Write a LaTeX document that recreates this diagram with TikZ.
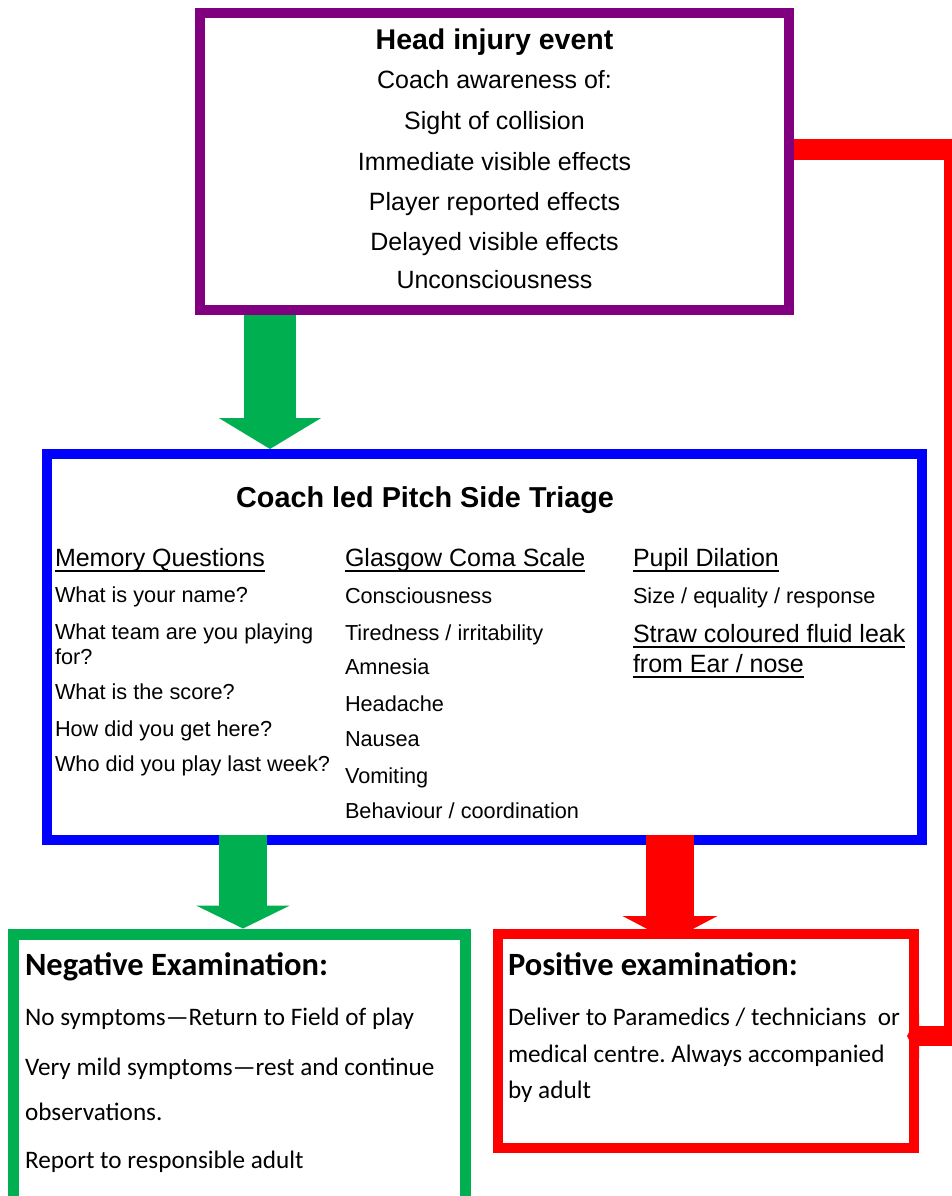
\documentclass[tikz,border=0pt]{standalone}
\usepackage{fontspec}
\setmainfont{Liberation Sans}
\newfontfamily\calibri{Carlito}
\usetikzlibrary{arrows.meta}
\definecolor{evpurple}{RGB}{128,0,128}
\definecolor{trblue}{RGB}{0,0,255}
\definecolor{ngreen}{RGB}{0,176,80}
\definecolor{pred}{RGB}{255,0,0}
\pgfdeclarelayer{bg}\pgfdeclarelayer{mid}\pgfsetlayers{bg,mid,main}
\newsavebox\ulbox
\newcommand\ulx[1]{\sbox\ulbox{#1}\rlap{\rule[-6pt]{\wd\ulbox}{1.6pt}}\usebox\ulbox}
\frenchspacing
\begin{document}
\begin{tikzpicture}[x=1pt,y=-1pt,
  box/.style={draw, fill=white, inner sep=0pt, anchor=north west},
  lbl/.style={anchor=base west, inner sep=0pt, outer sep=0pt},
  clbl/.style={anchor=base, inner sep=0pt, outer sep=0pt},
  evhead/.style={clbl, font=\fontsize{28.5}{32}\selectfont\bfseries},
  evtxt/.style={clbl, font=\fontsize{25}{29}\selectfont},
  trtitle/.style={clbl, font=\fontsize{28.8}{32}\selectfont\bfseries},
  colhead/.style={lbl, font=\fontsize{25}{29}\selectfont},
  coltxt/.style={lbl, font=\fontsize{21.7}{25}\selectfont},
  calhead/.style={lbl, font=\calibri\bfseries\fontsize{32.5}{36}\selectfont},
  caltxt/.style={lbl, font=\calibri\fontsize{25.2}{29}\selectfont},
  blockarrow/.style={line width=#1}
]
\useasboundingbox (0,0) rectangle (952,1196);

% boxes
\begin{pgfonlayer}{bg}
\node[box, draw=evpurple, line width=10pt, minimum width=589pt, minimum height=297pt] (event) at (195,8) {};
\node[box, draw=trblue, line width=10pt, minimum width=874.5pt, minimum height=386pt] (triage) at (42,449) {};
\end{pgfonlayer}
\node[box, draw=ngreen, line width=11pt, minimum width=452pt, minimum height=300pt] (neg) at (7.5,928.5) {};
\node[box, draw=pred, line width=10pt, minimum width=415.5pt, minimum height=214pt] (pos) at (493,929) {};

% block arrows
\coordinate (g1) at (270,0);
\coordinate (g2s) at (243,835);
\coordinate (r2s) at (670,835);
\coordinate (r2t) at (670,941);
\begin{pgfonlayer}{mid}
\draw[ngreen, blockarrow=52pt, -{Triangle[width=101pt,length=31pt]}] (event.south -| g1) -- (triage.north -| g1);
\draw[ngreen, blockarrow=48pt, -{Triangle[width=93pt,length=23pt]}] (g2s) -- (neg.north -| g2s);
\draw[pred, blockarrow=48pt, -{Triangle[width=94pt,length=25pt]}] (r2s) -- (r2t);
\end{pgfonlayer}

% red connector
\coordinate (rail) at (954,600);
\coordinate (ptip) at (907,1036);
\draw[pred, line width=20pt, line join=miter, -{Triangle[width=44pt,length=12pt]}] ([yshift=12pt]event.east) -| (rail) |- (ptip);

% event texts
\node[evhead] (e0) at (494.5,50) {Head injury event};
\node[evtxt] (e1) at (494.5,89) {Coach awareness of:};
\node[evtxt] (e2) at (494.5,130) {Sight of collision};
\node[evtxt] (e3) at (494.5,170) {Immediate visible effects};
\node[evtxt] (e4) at (494.5,210) {Player reported effects};
\node[evtxt] (e5) at (494.5,250) {Delayed visible effects};
\node[evtxt] (e6) at (494.5,288) {Unconsciousness};

% triage texts
\node[trtitle] (t0) at (425,507) {Coach led Pitch Side Triage};
\node[colhead] (m0) at (55,566) {\ulx{Memory Questions}};
\node[coltxt] (m1) at (55,602) {What is your name?};
\node[coltxt] (m2) at (55,639) {What team are you playing};
\node[coltxt] (m3) at (55,664) {for?};
\node[coltxt] (m4) at (55,699) {What is the score?};
\node[coltxt] (m5) at (55,736) {How did you get here?};
\node[coltxt] (m6) at (55,771) {Who did you play last week?};

\node[colhead] (g0) at (345,566) {\ulx{Glasgow Coma Scale}};
\node[coltxt] (ga) at (345,603) {Consciousness};
\node[coltxt] (gb) at (345,640) {Tiredness / irritability};
\node[coltxt] (gc) at (345,674) {Amnesia};
\node[coltxt] (gd) at (345,711) {Headache};
\node[coltxt] (ge) at (345,746) {Nausea};
\node[coltxt] (gf) at (345,783) {Vomiting};
\node[coltxt] (gg) at (345,818) {Behaviour / coordination};

\node[colhead] (p0) at (633,566) {\ulx{Pupil Dilation}};
\node[coltxt] (p1) at (633,603) {Size / equality / response};
\node[colhead] (p2) at (633,642) {\ulx{Straw coloured fluid leak}};
\node[colhead] (p3) at (633,672) {\ulx{from Ear / nose}};

% negative
\node[calhead] (n0) at (25,975) {Negative Examination:};
\node[caltxt] (n1) at (25,1025) {No symptoms—Return to Field of play};
\node[caltxt] (n2) at (25,1075) {Very mild symptoms—rest and continue};
\node[caltxt] (n3) at (25,1120) {observations.};
\node[caltxt] (n4) at (25,1168) {Report to responsible adult};

% positive
\node[calhead] (q0) at (508,975) {Positive examination:};
\node[caltxt] (q1) at (508,1025) {Deliver to Paramedics / technicians~ or};
\node[caltxt] (q2) at (508,1062) {medical centre. Always accompanied};
\node[caltxt] (q3) at (508,1098) {by adult};
\end{tikzpicture}
\end{document}
